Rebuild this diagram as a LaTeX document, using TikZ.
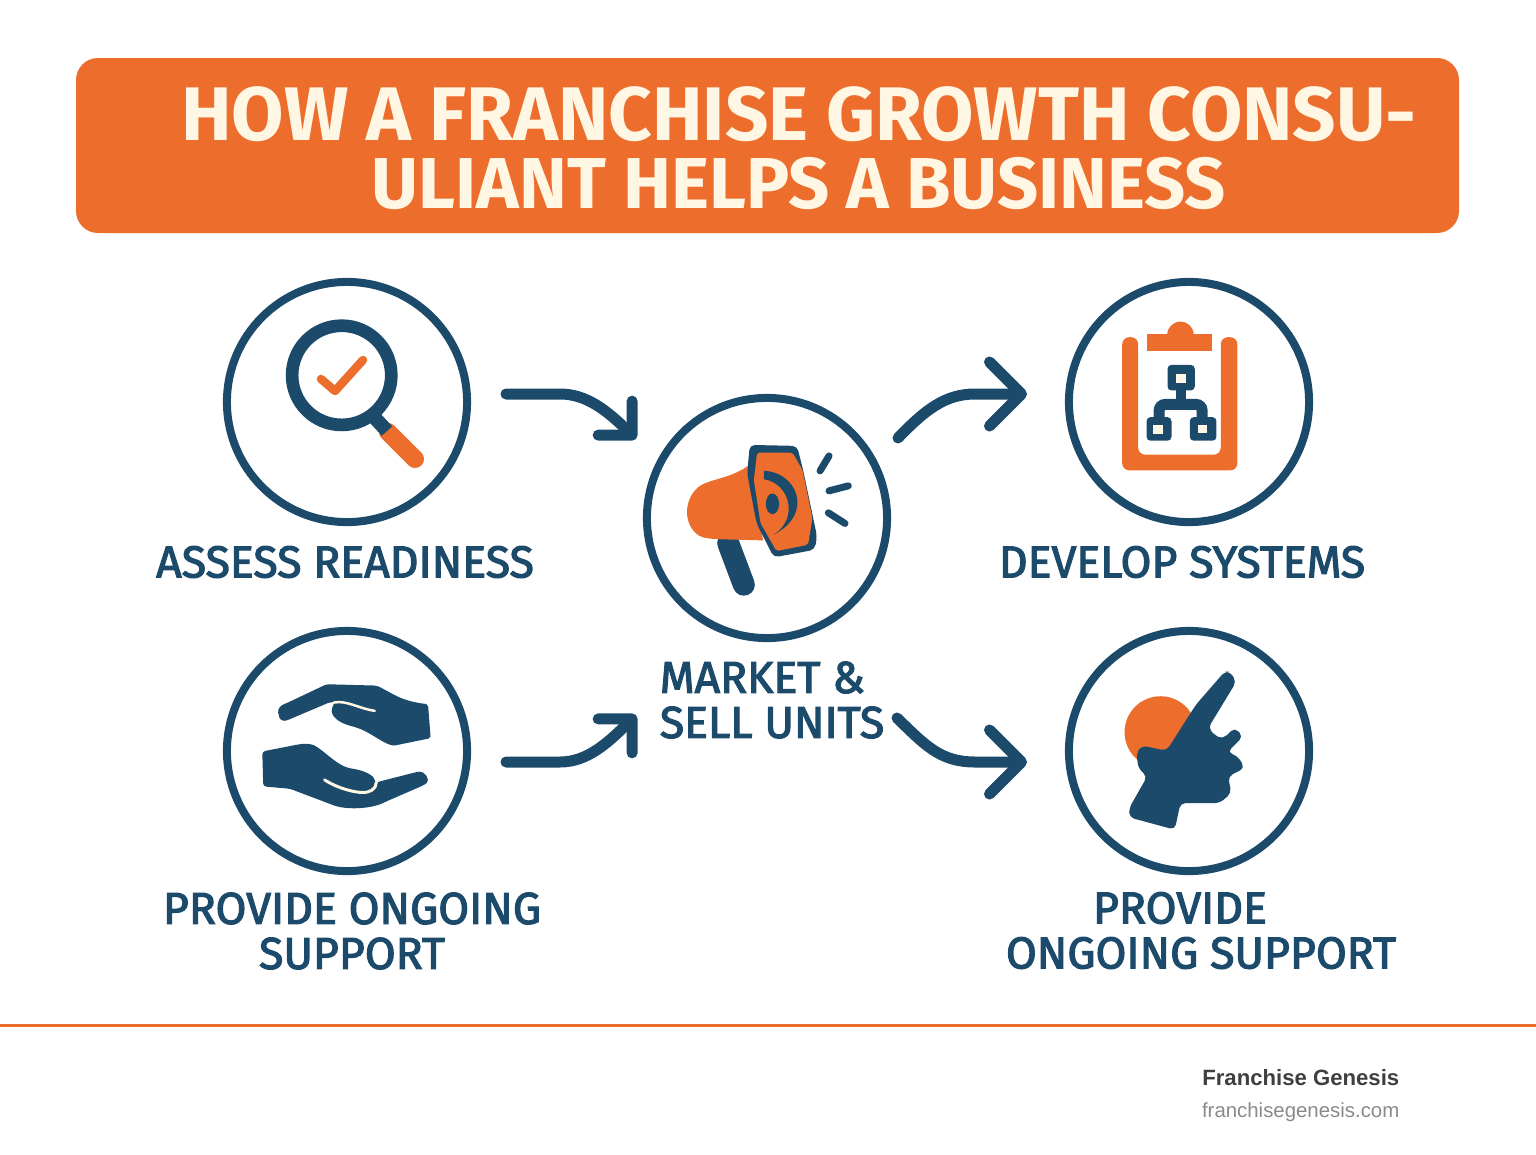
\documentclass[tikz,border=0pt]{standalone}
\usepackage{fontspec}
\setmainfont{Fira Sans}
\newfontfamily\labelfont[FakeBold=2.6]{Fira Sans}
\newfontfamily\footfont{Liberation Sans}
\usetikzlibrary{arrows.meta, bending}
\definecolor{navy}{HTML}{1B4A6B}
\definecolor{brand}{HTML}{EC6D2C}
\definecolor{cream}{HTML}{FFF6E3}
\definecolor{footdark}{HTML}{3F3F3F}
\definecolor{footgray}{HTML}{8A8A8A}
\tikzset{
  ring/.style={circle, draw=navy, line width=0.08cm, minimum size=2.4cm, inner sep=0pt},
  flowshort/.style={draw=navy, line width=0.11cm, line cap=round, -{Straight Barb[round, flex=0, length=0.24cm, width=0.48cm]}},
  flowlong/.style={draw=navy, line width=0.11cm, line cap=round, -{Straight Barb[round, flex=0, length=0.32cm, width=0.64cm]}},
  steplabel/.style={text=navy, font=\fontsize{12.7}{12.8}\selectfont\labelfont, inner sep=0pt, align=center},
  iconzoom/.style={x=0.003333cm, y=-0.003333cm},
}
\begin{document}
\begin{tikzpicture}[x=0.01cm, y=-0.01cm]
  \useasboundingbox (0, 0) rectangle (1536, 1154);
  % title
  \fill[brand, rounded corners=0.22cm] (76, 58) rectangle (1459, 233);
  \node[text=cream, font=\bfseries, inner sep=0pt, align=center] (title) at (799, 148)
    {\fontsize{21.6}{19.9}\selectfont HOW A FRANCHISE GROWTH CONSU-\\[0.12cm]\fontsize{20.5}{19.9}\selectfont ULIANT HELPS A BUSINESS};
  % circles
  \node[ring] (assess) at (347, 402) {};
  \node[ring] (market) at (767, 518) {};
  \node[ring] (develop) at (1189, 402) {};
  \node[ring] (care) at (347, 751) {};
  \node[ring] (mind) at (1189, 751) {};
  % labels
  \node[steplabel] (assesslabel) at (345, 562) {ASSESS READINESS};
  \node[steplabel] (developlabel) at (1182, 562) {DEVELOP SYSTEMS};
  \node[steplabel, align=left] (marketlabel) at (772, 700) {MARKET \&\\SELL UNITS};
  \node[steplabel] (carelabel) at (352, 931) {PROVIDE ONGOING\\SUPPORT};
  \node[steplabel] (mindlabel) at (1180, 908) {PROVIDE};
  \node[steplabel] (mindlabeltwo) at (1201, 953) {ONGOING SUPPORT};
  % connectors
  \coordinate (assessout) at (506, 394);
  \coordinate (marketin) at (636, 439);
  \coordinate (marketout) at (898, 438);
  \coordinate (developin) at (1027, 394);
  \coordinate (careout) at (506, 762);
  \coordinate (marketintwo) at (636, 715);
  \coordinate (marketouttwo) at (897, 718);
  \coordinate (mindin) at (1027, 762);
  \draw[flowshort] (assessout) -- (560, 394) .. controls (590, 394) and (612, 415) .. (marketin);
  \draw[flowlong] (marketout) .. controls (925, 410) and (945, 394) .. (975, 394) -- (developin);
  \draw[flowshort] (careout) -- (560, 762) .. controls (590, 762) and (612, 739) .. (marketintwo);
  \draw[flowlong] (marketouttwo) .. controls (925, 745) and (940, 762) .. (975, 762) -- (mindin);
  % magnifier
  \draw[brand, line width=0.18cm, line cap=round] (388, 432) -- (415, 459);
  \draw[navy, line width=0.14cm] (375, 418) -- (387, 431);
  \draw[navy, line width=0.127cm] (341.7, 375.3) circle (49.6);
  \draw[brand, line width=0.085cm, line cap=round, line join=round] (321, 379) -- (335, 391) -- (363, 360);
  % megaphone
  \begin{scope}[shift={(640, 390)}, iconzoom]
    \draw[navy, line width=0.22cm, line cap=round] (265, 460) -- (312, 585);
    \fill[brand] (325, 228) .. controls (270, 265) and (225, 265) .. (185, 285) .. controls (135, 315) and (125, 395) .. (170, 432) .. controls (190, 452) and (230, 447) .. (370, 452) -- cycle;
    \fill[navy, rounded corners=0.05cm] (330, 165) -- (472, 168) -- (490, 240) -- (532, 440) -- (525, 480) -- (402, 503) -- (350, 400) -- (322, 250) -- cycle;
    \fill[brand, rounded corners=0.02cm] (352, 188) -- (458, 188) -- (488, 240) -- (518, 385) -- (505, 465) -- (410, 484) -- (362, 400) -- (342, 270) -- cycle;
    \fill[navy] (372, 243) .. controls (470, 245) and (525, 370) .. (403, 434) .. controls (478, 385) and (450, 280) .. (372, 268) -- cycle;
    \fill[navy] (398, 342) ellipse (20 and 31);
    \draw[navy, line width=0.07cm, line cap=round] (568, 198) -- (541, 243);
    \draw[navy, line width=0.07cm, line cap=round] (568, 303) -- (626, 288);
    \draw[navy, line width=0.07cm, line cap=round] (566, 369) -- (616, 401);
  \end{scope}
  % clipboard
  \begin{scope}[shift={(1060, 275)}, iconzoom]
    \fill[brand, rounded corners=0.07cm] (187, 187) -- (187, 587) -- (533, 587) -- (533, 187) -- (483, 187) -- (483, 540) -- (235, 540) -- (235, 187) -- cycle;
    \fill[brand] (262, 178) rectangle (458, 228);
    \fill[brand] (322, 180) arc[start angle=180, end angle=360, radius=40];
    \fill[navy, rounded corners=0.04cm] (323, 270) rectangle (405, 347);
    \fill[navy, rounded corners=0.04cm] (260, 427) rectangle (335, 498);
    \fill[navy, rounded corners=0.04cm] (390, 427) rectangle (470, 498);
    \draw[navy, line width=0.1cm] (363, 340) -- (363, 389);
    \draw[navy, line width=0.11cm, rounded corners=0.06cm] (298, 440) -- (298, 389) -- (427, 389) -- (427, 440);
    \fill[cream] (350, 297) rectangle (378, 325);
    \fill[cream] (280, 450) rectangle (310, 478);
    \fill[cream] (415, 450) rectangle (442, 475);
  \end{scope}
  % hands
  \begin{scope}[shift={(220, 625)}, iconzoom]
    \fill[navy, rounded corners=0.02cm] (176, 270) .. controls (172, 250) and (185, 240) .. (200, 235) -- (320, 178) -- (470, 182) .. controls (520, 205) and (540, 228) .. (625, 238) -- (633, 340) -- (520, 363) .. controls (480, 350) and (450, 320) .. (400, 305) .. controls (360, 295) and (330, 275) .. (338, 245) -- (345, 232) -- (330, 232) -- (205, 285) .. controls (190, 290) and (180, 285) .. (176, 270) -- cycle;
    \draw[cream, line width=0.025cm, line cap=round] (342, 233) .. controls (380, 225) and (420, 252) .. (465, 258);
    \fill[navy, rounded corners=0.03cm] (127, 380) -- (240, 358) .. controls (260, 356) and (275, 358) .. (290, 365) .. controls (330, 395) and (360, 425) .. (400, 432) .. controls (440, 440) and (465, 455) .. (465, 475) -- (480, 470) -- (590, 442) .. controls (615, 438) and (632, 465) .. (615, 480) -- (500, 530) .. controls (460, 550) and (400, 555) .. (350, 545) -- (210, 492) -- (130, 485) -- cycle;
    \draw[cream, line width=0.03cm, line cap=round] (314, 465) .. controls (350, 490) and (430, 515) .. (455, 497) .. controls (465, 490) and (470, 482) .. (470, 472);
  \end{scope}
  % head
  \begin{scope}[shift={(1060, 625)}, iconzoom]
    \fill[brand] (302, 322) circle (108);
    \fill[navy, rounded corners=0.05cm] (495, 140) -- (408, 240) -- (320, 378) -- (245, 362) -- (230, 385) -- (235, 430) -- (262, 455) -- (208, 550) -- (208, 578) -- (345, 615) -- (362, 535) -- (480, 535) -- (515, 505) -- (505, 455) -- (555, 430) -- (535, 395) -- (503, 382) -- (550, 335) -- (525, 308) -- (490, 342) -- (470, 335) -- (445, 310) -- (530, 170) -- (510, 140) -- cycle;
  \end{scope}
  % footer
  \draw[brand, line width=0.03cm] (0, 1025) -- (1536, 1025);
  \node[text=footdark, font=\fontsize{6.3}{8}\selectfont\footfont\bfseries, inner sep=0pt, anchor=east] (brandname) at (1400, 1078) {Franchise Genesis};
  \node[text=footgray, font=\fontsize{5.8}{8}\selectfont\footfont, inner sep=0pt, anchor=east] (brandurl) at (1400, 1112) {franchisegenesis.com};
\end{tikzpicture}
\end{document}
